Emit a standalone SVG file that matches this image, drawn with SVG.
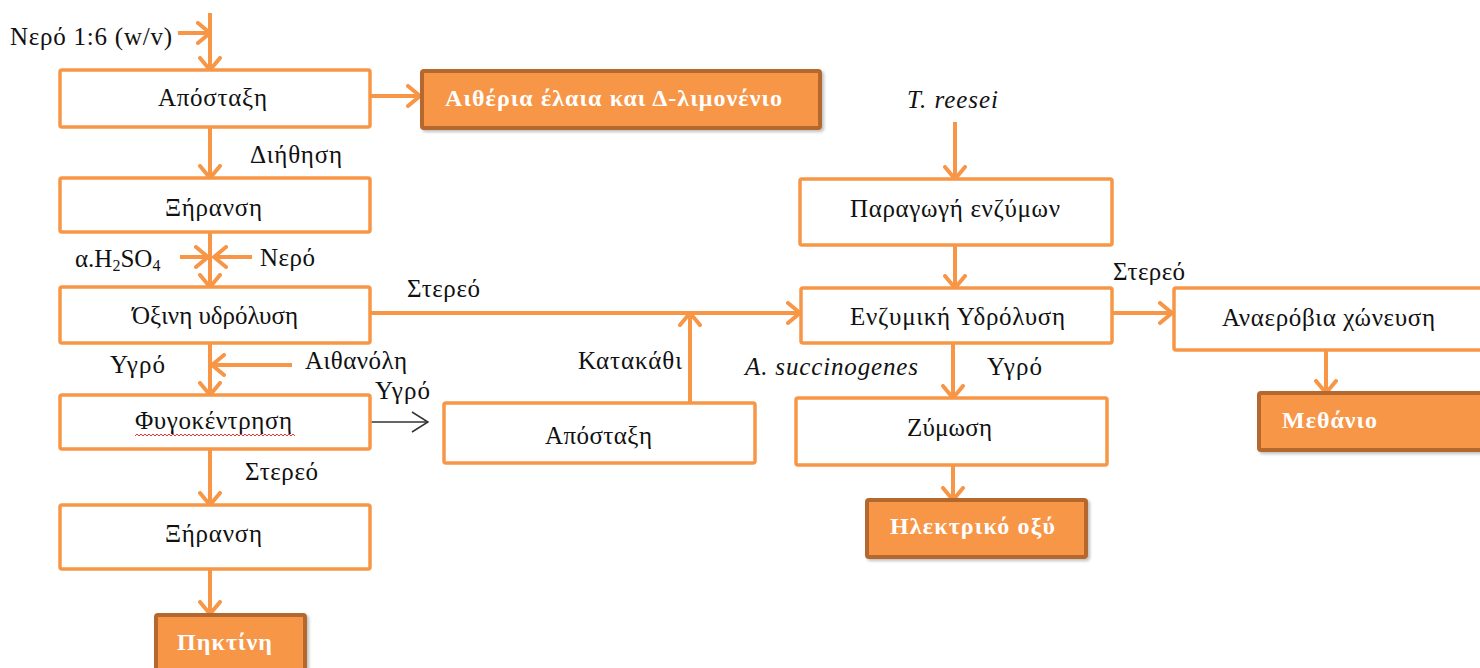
<svg xmlns="http://www.w3.org/2000/svg" width="1480" height="668" viewBox="0 0 1480 668">
<style>
.box{fill:#fff;stroke:#F79646;stroke-width:3.5}
.obox{fill:#F79646;stroke:#B5672E;stroke-width:4}
.t{font-family:"Liberation Serif","Times New Roman",serif;font-size:25px;fill:#111}
.i{font-style:italic}
.w{font-family:"Liberation Serif","Times New Roman",serif;font-size:24px;font-weight:bold;fill:#fff}
.ln{stroke:#F79646;stroke-width:4;fill:none;marker-end:url(#ah)}
.thin{stroke:#333;stroke-width:1.5;fill:none;marker-end:url(#ahk)}
</style>
<defs>
<marker id="ah" viewBox="0 0 16 24" refX="14" refY="12" markerWidth="16" markerHeight="24" markerUnits="userSpaceOnUse" orient="auto">
<path d="M2,2 L14,12 L2,22" fill="none" stroke="#F79646" stroke-width="4" stroke-linecap="round" stroke-linejoin="round"/>
</marker>
<marker id="ahk" viewBox="0 0 18 22" refX="17" refY="11" markerWidth="18" markerHeight="22" markerUnits="userSpaceOnUse" orient="auto">
<path d="M1,1 L17,11 L1,21" fill="none" stroke="#333" stroke-width="1.5"/>
</marker>
<filter id="sh" x="-5%" y="-10%" width="115%" height="130%">
<feDropShadow dx="2" dy="2" stdDeviation="1.5" flood-color="#000" flood-opacity="0.25"/>
</filter>
</defs>

<g id="connectors">
<path class="ln" d="M210,13 V70"/>
<path class="ln" d="M178,33 H210"/>
<path class="ln" d="M370,96 H420"/>
<path class="ln" d="M210,127 V178"/>
<path class="ln" d="M210,232 V287"/>
<path class="ln" d="M180,257 H208"/>
<path class="ln" d="M252,257 H214"/>
<path class="ln" d="M370,313 H800"/>
<path class="ln" d="M690,403 V313"/>
<path class="ln" d="M210,343 V395"/>
<path class="ln" d="M292,365 H212"/>
<path class="thin" d="M370,422 H428"/>
<path class="ln" d="M210,449 V505"/>
<path class="ln" d="M210,569 V614"/>
<path class="ln" d="M955,122 V179"/>
<path class="ln" d="M955,245 V288"/>
<path class="ln" d="M1112,313 H1172"/>
<path class="ln" d="M1326,350 V393"/>
<path class="ln" d="M953,343 V398"/>
<path class="ln" d="M953,465 V500"/>
</g>

<g id="n-feed">
<text class="t" x="10" y="45" textLength="162">Νερό 1:6 (w/v)</text>
</g>
<g id="n-apostaxi1">
<rect class="box" x="60" y="70" width="310" height="57" rx="2"/>
<text class="t" x="158" y="106" textLength="109">Απόσταξη</text>
</g>
<g id="n-aitheria">
<rect class="obox" x="422" y="71" width="398" height="57" rx="2" filter="url(#sh)"/>
<text class="w" x="445" y="106" textLength="337">Αιθέρια  έλαια και Δ-λιμονένιο</text>
</g>
<g id="l-diithisi"><text class="t" x="250" y="163" textLength="92">Διήθηση</text></g>
<g id="n-xiransi1">
<rect class="box" x="60" y="178" width="310" height="54" rx="2"/>
<text class="t" x="165" y="216" textLength="97">Ξήρανση</text>
</g>
<g id="l-h2so4"><text class="t" x="75" y="267">α.H<tspan font-size="16" dy="4">2</tspan><tspan dy="-4">SO</tspan><tspan font-size="16" dy="4">4</tspan></text></g>
<g id="l-nero"><text class="t" x="260" y="266" textLength="55">Νερό</text></g>
<g id="n-oxini">
<rect class="box" x="60" y="287" width="310" height="56" rx="2"/>
<text class="t" x="132" y="324" textLength="166">Όξινη υδρόλυση</text>
</g>
<g id="l-stereo1"><text class="t" x="407" y="297" textLength="73">Στερεό</text></g>
<g id="l-ygro1"><text class="t" x="110" y="373" textLength="55">Υγρό</text></g>
<g id="l-aithanoli"><text class="t" x="305" y="369" textLength="102">Αιθανόλη</text></g>
<g id="l-ygro2"><text class="t" x="375" y="399" textLength="55">Υγρό</text></g>
<g id="n-fygokentrisi">
<rect class="box" x="60" y="395" width="310" height="54" rx="2"/>
<text class="t" x="135" y="429" textLength="157">Φυγοκέντρηση</text>
<path d="M135,436 l2,-2 l2,2 l2,-2 l2,2 l2,-2 l2,2 l2,-2 l2,2 l2,-2 l2,2 l2,-2 l2,2 l2,-2 l2,2 l2,-2 l2,2 l2,-2 l2,2 l2,-2 l2,2 l2,-2 l2,2 l2,-2 l2,2 l2,-2 l2,2 l2,-2 l2,2 l2,-2 l2,2 l2,-2 l2,2 l2,-2 l2,2 l2,-2 l2,2 l2,-2 l2,2 l2,-2 l2,2 l2,-2 l2,2 l2,-2 l2,2 l2,-2 l2,2 l2,-2 l2,2 l2,-2 l2,2 l2,-2 l2,2 l2,-2 l2,2 l2,-2 l2,2 l2,-2 l2,2 l2,-2 l2,2 l2,-2 l2,2 l2,-2 l2,2 l2,-2 l2,2 l2,-2 l2,2 l2,-2 l2,2 l2,-2 l2,2 l2,-2 l2,2 l2,-2 l2,2 l2,-2 l2,2 l2,-2 l2,2" fill="none" stroke="#E33" stroke-width="1"/>
</g>
<g id="l-stereo2"><text class="t" x="245" y="480" textLength="73">Στερεό</text></g>
<g id="n-xiransi2">
<rect class="box" x="60" y="505" width="310" height="64" rx="2"/>
<text class="t" x="165" y="542" textLength="97">Ξήρανση</text>
</g>
<g id="n-pektini">
<rect class="obox" x="156" y="615" width="149" height="70" rx="2" filter="url(#sh)"/>
<text class="w" x="177" y="650" textLength="95">Πηκτίνη</text>
</g>
<g id="n-apostaxi2">
<rect class="box" x="444" y="403" width="311" height="60" rx="2"/>
<text class="t" x="545" y="444" textLength="107">Απόσταξη</text>
</g>
<g id="l-katakathi"><text class="t" x="578" y="369" textLength="104">Κατακάθι</text></g>
<g id="l-treesei"><text class="t i" x="907" y="108" textLength="91">T. reesei</text></g>
<g id="n-paragogi">
<rect class="box" x="800" y="179" width="312" height="66" rx="2"/>
<text class="t" x="850" y="217" textLength="210">Παραγωγή ενζύμων</text>
</g>
<g id="n-enzymiki">
<rect class="box" x="801" y="288" width="311" height="55" rx="2"/>
<text class="t" x="850" y="325" textLength="215">Ενζυμική Υδρόλυση</text>
</g>
<g id="l-stereo3"><text class="t" x="1113" y="280" textLength="72">Στερεό</text></g>
<g id="n-anaerobia">
<rect class="box" x="1174" y="288" width="320" height="62" rx="2"/>
<text class="t" x="1222" y="326" textLength="213">Αναερόβια χώνευση</text>
</g>
<g id="n-methanio">
<rect class="obox" x="1259" y="393" width="240" height="57" rx="2" filter="url(#sh)"/>
<text class="w" x="1282" y="428" textLength="95">Μεθάνιο</text>
</g>
<g id="l-asucc"><text class="t i" x="745" y="375" textLength="173">A. succinogenes</text></g>
<g id="l-ygro3"><text class="t" x="987" y="375" textLength="55">Υγρό</text></g>
<g id="n-zymosi">
<rect class="box" x="796" y="398" width="311" height="67" rx="2"/>
<text class="t" x="907" y="436" textLength="85">Ζύμωση</text>
</g>
<g id="n-ilektriko">
<rect class="obox" x="867" y="500" width="219" height="57" rx="2" filter="url(#sh)"/>
<text class="w" x="890" y="534" textLength="165">Ηλεκτρικό  οξύ</text>
</g>
</svg>
